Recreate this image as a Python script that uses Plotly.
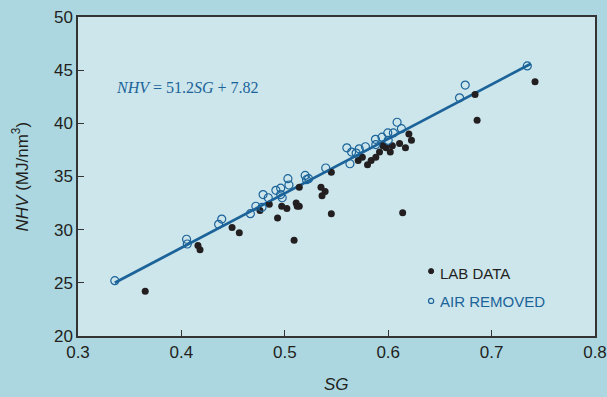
import plotly.graph_objects as go

# LAB DATA (filled)
lab_sg = [0.365, 0.416, 0.418, 0.449, 0.456, 0.476, 0.485, 0.493, 0.497, 0.502,
          0.509, 0.511, 0.514, 0.512, 0.514, 0.535, 0.539, 0.536, 0.545, 0.545,
          0.571, 0.575, 0.580, 0.5835, 0.588, 0.5916, 0.595, 0.598, 0.602, 0.604,
          0.611, 0.6167, 0.620, 0.6225, 0.614, 0.684, 0.686, 0.742]
lab_nhv = [24.2, 28.5, 28.1, 30.2, 29.7, 31.8, 32.4, 31.1, 32.2, 32.0,
           29.0, 32.5, 34.0, 32.2, 32.2, 34.0, 33.6, 33.2, 35.4, 31.5,
           36.5, 36.8, 36.1, 36.5, 36.8, 37.3, 37.9, 37.7, 37.3, 37.9,
           38.1, 37.7, 39.0, 38.4, 31.6, 42.7, 40.3, 43.9]

# AIR REMOVED (open)
air_sg = [0.3356, 0.405, 0.4057, 0.436, 0.439, 0.4667, 0.472, 0.478, 0.479, 0.484,
          0.4914, 0.496, 0.496, 0.4975, 0.503, 0.504, 0.5197, 0.521, 0.523, 0.5396,
          0.560, 0.563, 0.5646, 0.569, 0.572, 0.578, 0.5877, 0.588, 0.594, 0.5996,
          0.600, 0.605, 0.6086, 0.6128, 0.669, 0.6745, 0.7345]
air_nhv = [25.2, 29.1, 28.65, 30.5, 31.0, 31.5, 32.2, 32.1, 33.3, 33.0,
           33.7, 33.9, 33.3, 33.0, 34.8, 34.2, 35.1, 34.7, 34.8, 35.8,
           37.7, 36.2, 37.3, 37.2, 37.6, 37.8, 38.5, 38.0, 38.7, 39.1,
           38.4, 39.1, 40.1, 39.5, 42.4, 43.6, 45.4]

# Fit line NHV = 51.2 SG + 7.82
slope, intercept = 51.2, 7.82
fit_sg = [0.3356, 0.738]
fit_nhv = [slope * s + intercept for s in fit_sg]

x_ticks = [0.3, 0.4, 0.5, 0.6, 0.7, 0.8]
x_tick_labels = ["0.3", "0.4", "0.5", "0.6", "0.7", "0.8"]
y_ticks = [20, 25, 30, 35, 40, 45, 50]

BLUE = "#1b6399"
DARK = "#231f20"
PAPER = "#acd7e0"
SANS = "Liberation Sans, Arial, sans-serif"

fig = go.Figure()
fig.add_trace(go.Scatter(x=fit_sg, y=fit_nhv, mode="lines",
                         line=dict(color=BLUE, width=2.8), showlegend=False,
                         hoverinfo="skip"))
fig.add_trace(go.Scatter(x=lab_sg, y=lab_nhv, mode="markers", name="LAB DATA",
                         marker=dict(color=DARK, size=7), showlegend=False))
fig.add_trace(go.Scatter(x=air_sg, y=air_nhv, mode="markers", name="AIR REMOVED",
                         marker=dict(symbol="circle-open", color=BLUE, size=8,
                                     line=dict(width=1.2, color=BLUE)),
                         showlegend=False))

axis_common = dict(showgrid=False, zeroline=False, showline=True, linecolor="#333333",
                   linewidth=1.5, mirror=True, ticks="inside", ticklen=6,
                   tickcolor="#333333", tickwidth=1.2, automargin=False,
                   ticklabeloverflow="allow",
                   tickfont=dict(family=SANS, size=17, color=DARK))

fig.update_layout(
    width=607, height=397,
    margin=dict(l=78, r=12, t=17, b=61),
    paper_bgcolor=PAPER,
    plot_bgcolor="#cde6ec",
    xaxis=dict(range=[0.3, 0.8], tickvals=x_ticks, ticktext=x_tick_labels,
               **axis_common),
    yaxis=dict(range=[20, 50], tickvals=y_ticks,
               ticktext=[str(v) for v in y_ticks], **axis_common),
)

# Axis titles
fig.add_annotation(x=0.5, y=0, xref="paper", yref="paper", yshift=-48,
                   xanchor="center", yanchor="middle", showarrow=False,
                   text="<i>SG</i>", font=dict(family=SANS, size=17, color=DARK))
fig.add_annotation(x=0, y=0.5, xref="paper", yref="paper", xshift=-58,
                   xanchor="center", yanchor="middle", showarrow=False, textangle=-90,
                   text="<i>NHV</i> (MJ/nm<sup>3</sup>)",
                   font=dict(family=SANS, size=17, color=DARK))

# Equation
fig.add_annotation(x=0.0, y=0.78, xref="paper", yref="paper", xanchor="left",
                   yanchor="middle", xshift=36, showarrow=False,
                   text="<i>NHV</i> = 51.2<i>SG</i> + 7.82",
                   font=dict(family="Liberation Serif, serif", size=16, color=BLUE))

# Legend
leg_x = 0.6415
fig.add_shape(type="circle", xref="x", yref="y",
              x0=leg_x - 0.0025, x1=leg_x + 0.0025, y0=26.1 - 0.24, y1=26.1 + 0.24,
              fillcolor=DARK, line=dict(color=DARK, width=1))
fig.add_shape(type="circle", xref="x", yref="y",
              x0=leg_x - 0.0025, x1=leg_x + 0.0025, y0=23.3 - 0.24, y1=23.3 + 0.24,
              fillcolor="rgba(0,0,0,0)", line=dict(color=BLUE, width=1.2))
fig.add_annotation(x=leg_x + 0.0065, y=25.9, xref="x", yref="y", xanchor="left",
                   yanchor="middle", showarrow=False, text="LAB DATA",
                   font=dict(family=SANS, size=15, color=DARK))
fig.add_annotation(x=leg_x + 0.0065, y=23.2, xref="x", yref="y", xanchor="left",
                   yanchor="middle", showarrow=False, text="AIR REMOVED",
                   font=dict(family=SANS, size=15, color=BLUE))

fig.write_html(
    "out.html",
    config={"displayModeBar": False},
    post_script=(
        "document.body.style.margin='0';"
        "document.body.style.padding='0';"
        "document.body.style.overflow='hidden';"
        f"document.body.style.background='{PAPER}';"
    ),
)
